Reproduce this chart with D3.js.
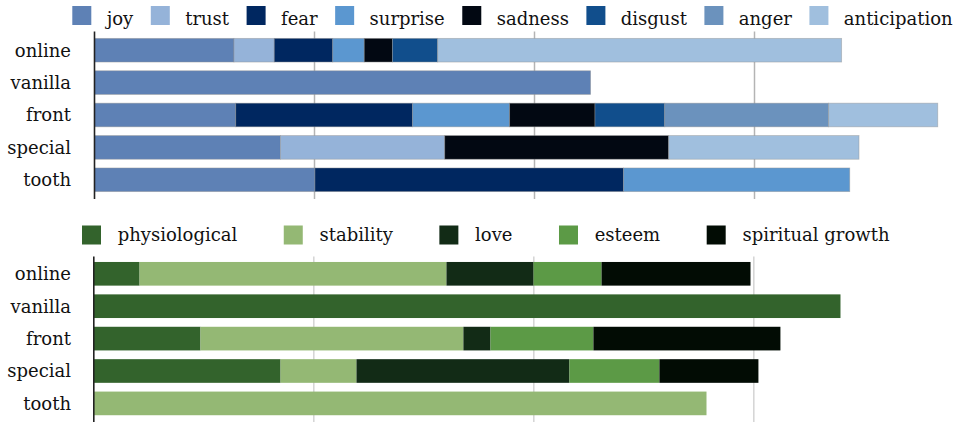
<!DOCTYPE html>
<html>
<head>
<meta charset="utf-8">
<script src="https://cdnjs.cloudflare.com/ajax/libs/d3/7.8.5/d3.min.js"></script>
<style>
  body { margin: 0; background: #fff; }
  text { font-family: "DejaVu Serif", serif; font-size: 18px; fill: #111; }
</style>
</head>
<body>
<div id="chart"></div>
<script>
var categories = ["online", "vanilla", "front", "special", "tooth"];

// emotions (top chart)
var emotions = ["joy", "trust", "fear", "surprise", "sadness", "disgust", "anger", "anticipation"];
var emotion_colors = ["#5e81b5", "#95b3d9", "#002760", "#5b97d0", "#020812", "#114e8c", "#6b92bd", "#a0bfde"];
var joy          = [6.34, 22.55, 6.42, 8.45, 10.02];
var trust        = [1.83, 0, 0, 7.47, 0];
var fear         = [2.66, 0, 8.04, 0, 14.03];
var surprise     = [1.43, 0, 4.41, 0, 10.28];
var sadness      = [1.28, 0, 3.88, 10.18, 0];
var disgust      = [2.06, 0, 3.17, 0, 0];
var anger        = [0, 0, 7.45, 0, 0];
var anticipation = [18.36, 0, 4.96, 8.65, 0];

// needs (bottom chart)
var needs = ["physiological", "stability", "love", "esteem", "spiritual growth"];
var need_colors = ["#33632c", "#94b874", "#122b16", "#5c9a46", "#020c04"];
var physiological    = [2.08, 33.94, 4.85, 8.49, 0];
var stability        = [13.95, 0, 11.95, 3.45, 27.85];
var love             = [3.96, 0, 1.23, 9.68, 0];
var esteem           = [3.09, 0, 4.68, 4.09, 0];
var spiritual_growth = [6.77, 0, 8.5, 4.5, 0];

var grid_ticks = [10, 20, 30];

var width = 971;
var height = 424;

var svg = d3.select("#chart").append("svg")
            .attr("width", width)
            .attr("height", height);

function buildRows(keys, series){
    return categories.map(function(c, i){
        var row = {category: c};
        keys.forEach(function(k, j){ row[k] = series[j][i]; });
        return row;
    });
}

function drawChart(opt){
    var g = svg.append("g");
    var rows = buildRows(opt.keys, opt.series);
    var stack = d3.stack().keys(opt.keys)(rows);

    var x = d3.scaleLinear().domain([0, 10]).range([opt.x0, opt.x0 + 220]);
    var y = d3.scaleBand().domain(categories)
              .range([opt.y0, opt.y0 + 162])
              .paddingInner(0.27)
              .paddingOuter(0.135);
    var color = d3.scaleOrdinal().domain(opt.keys).range(opt.colors);

    // grid lines
    g.selectAll(".grid").data(grid_ticks).enter().append("line")
        .attr("x1", function(d){ return x(d); })
        .attr("x2", function(d){ return x(d); })
        .attr("y1", opt.lineTop)
        .attr("y2", opt.lineBottom)
        .attr("stroke", opt.gridColor)
        .attr("stroke-width", 1.5);

    // bars
    g.selectAll(".layer").data(stack).enter().append("g")
        .attr("fill", function(d){ return color(d.key); })
        .selectAll("rect").data(function(d){ return d; }).enter()
        .filter(function(d){ return d[1] - d[0] > 0; })
        .append("rect")
        .attr("x", function(d){ return x(d[0]); })
        .attr("y", function(d){ return y(d.data.category); })
        .attr("width", function(d){ return x(d[1]) - x(d[0]); })
        .attr("height", y.bandwidth())
        .attr("stroke", opt.barStroke)
        .attr("stroke-width", opt.barStroke == "none" ? 0 : 0.8);

    // axis line
    g.append("line")
        .attr("x1", opt.x0).attr("x2", opt.x0)
        .attr("y1", opt.lineTop).attr("y2", opt.lineBottom)
        .attr("stroke", "#222")
        .attr("stroke-width", 1.6);

    // row labels
    g.selectAll(".label").data(categories).enter().append("text")
        .attr("x", 71)
        .attr("y", function(d){ return y(d) + y.bandwidth() / 2; })
        .attr("dy", "0.35em")
        .attr("text-anchor", "end")
        .text(function(d){ return d; });

    // legend
    var lx = opt.legendX;
    opt.keys.forEach(function(k){
        g.append("rect")
            .attr("x", lx).attr("y", opt.legendY)
            .attr("width", 19).attr("height", 19)
            .attr("fill", color(k));
        var t = g.append("text")
            .attr("x", lx + opt.legendTextGap)
            .attr("y", opt.legendBase)
            .text(k);
        lx = lx + opt.legendTextGap + t.node().getComputedTextLength() + opt.legendGap;
    });
}

drawChart({
    keys: emotions,
    series: [joy, trust, fear, surprise, sadness, disgust, anger, anticipation],
    colors: emotion_colors,
    x0: 94.5, y0: 34,
    lineTop: 31.5, lineBottom: 199,
    gridColor: "#b4b4b4",
    barStroke: "rgba(150,150,150,0.55)",
    legendX: 72.3, legendY: 6, legendBase: 24.5,
    legendTextGap: 34.4, legendGap: 17.5
});

drawChart({
    keys: needs,
    series: [physiological, stability, love, esteem, spiritual_growth],
    colors: need_colors,
    x0: 93.8, y0: 257.6,
    lineTop: 256.5, lineBottom: 422,
    gridColor: "#d4d4d4",
    barStroke: "none",
    legendX: 82, legendY: 225.5, legendBase: 241,
    legendTextGap: 35.7, legendGap: 46.5
});
</script>
</body>
</html>
